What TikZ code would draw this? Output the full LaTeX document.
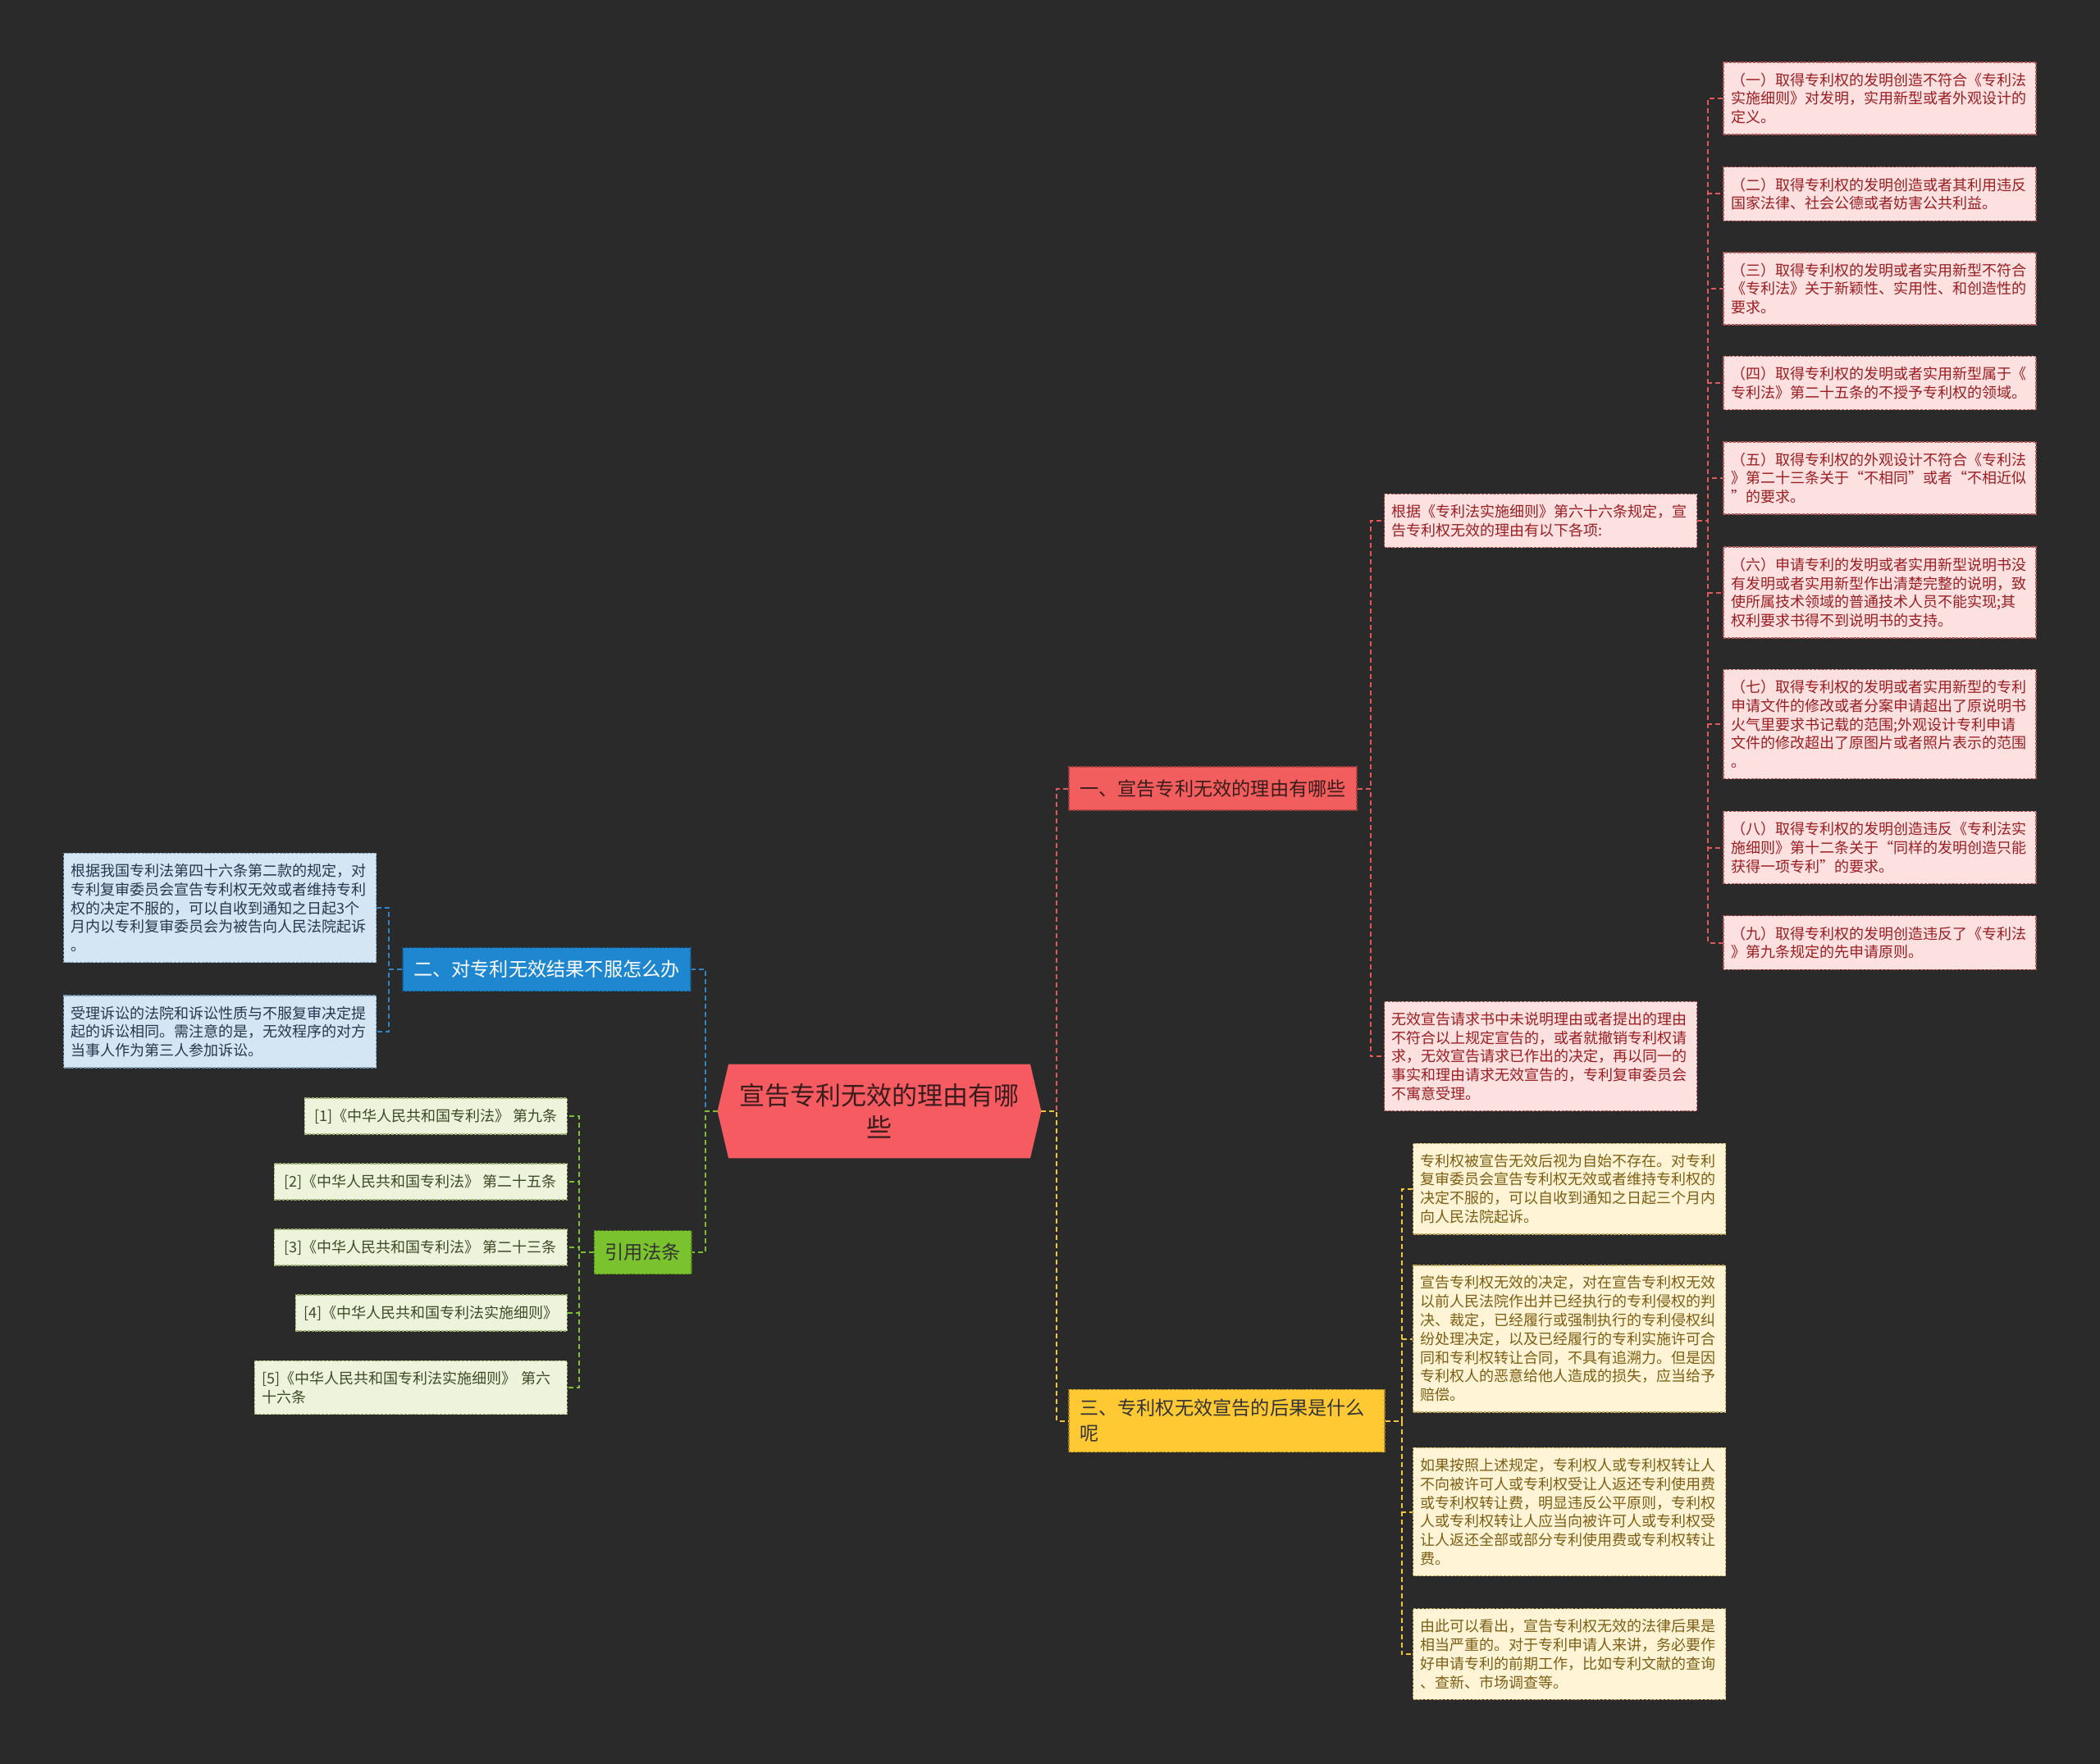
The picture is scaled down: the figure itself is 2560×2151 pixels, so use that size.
\documentclass[tikz,border=0pt]{standalone}
\usepackage{fontspec}
\setmainfont{Noto Sans CJK SC}
\usepackage{tikz}
\usetikzlibrary{backgrounds}

\definecolor{canvas}{HTML}{2A2A2A}
\definecolor{hubred}{HTML}{F55B61}
\definecolor{hubtext}{HTML}{3A1C1C}
\definecolor{topicred}{HTML}{F25E5E}
\definecolor{topicblue}{HTML}{1F87CF}
\definecolor{topicgreen}{HTML}{7AC22E}
\definecolor{topicyellow}{HTML}{FFC933}
\definecolor{pinkfill}{HTML}{FDE1E1}
\definecolor{pinkedge}{HTML}{B4585A}
\definecolor{pinktext}{HTML}{9A1E22}
\definecolor{skyfill}{HTML}{D4E6F4}
\definecolor{skyedge}{HTML}{7A9CBB}
\definecolor{skytext}{HTML}{24394F}
\definecolor{limefill}{HTML}{EEF4DB}
\definecolor{limeedge}{HTML}{9BB071}
\definecolor{limetext}{HTML}{3D4A26}
\definecolor{creamfill}{HTML}{FFF5D6}
\definecolor{creamedge}{HTML}{C2A65C}
\definecolor{creamtext}{HTML}{7D5E14}
\definecolor{linkred}{HTML}{E0585C}
\definecolor{linkblue}{HTML}{2E86C8}
\definecolor{linkgreen}{HTML}{7CC030}
\definecolor{linkyellow}{HTML}{F2C43A}

\begin{document}
\begin{tikzpicture}[
    x=0.5pt, y=-0.5pt,
    hub/.style={rectangle, inner sep=0pt, align=center, text=hubtext,
                minimum width=197pt, minimum height=57pt,
                font=\fontsize{15.5}{19.5}\selectfont},
    topic/.style={rectangle, fill=#1, draw=#1!65!black, line width=0.6pt,
                  dash pattern=on 1.6pt off 0.8pt, inner xsep=6.5pt, inner ysep=6pt,
                  minimum height=26.5pt, font=\fontsize{11.6}{15.5}\selectfont},
    leaf/.style={rectangle, align=left, text width=181.5pt, line width=0.6pt,
                 dash pattern=on 1.6pt off 0.8pt, inner xsep=4.5pt, inner ysep=6.4pt,
                 font=\fontsize{9}{11.4}\selectfont},
    redleaf/.style={leaf, fill=pinkfill, draw=pinkedge, text=pinktext},
    blueleaf/.style={leaf, fill=skyfill, draw=skyedge, text=skytext},
    greenleaf/.style={leaf, fill=limefill, draw=limeedge, text=limetext},
    yellowleaf/.style={leaf, fill=creamfill, draw=creamedge, text=creamtext},
    law/.style={greenleaf, anchor=east, text width=, align=center, minimum width=#1},
    link/.style={draw=#1, line width=1pt, dash pattern=on 3pt off 2pt}
]
\node[hub] (hub) at (1072,1355) {宣告专利无效的理由有哪\\些};

\node[topic=topicred, text=hubtext, minimum width=175.5pt]
    (why) at (1478.5,961.5) {一、宣告专利无效的理由有哪些};
\node[topic=topicyellow, text=black!80, align=left, text width=179.5pt]
    (effect) at (1495.5,1732.5) {三、专利权无效宣告的后果是什么\\呢};
\node[topic=topicblue, text=white, minimum width=175.5pt]
    (appeal) at (666.5,1182) {二、对专利无效结果不服怎么办};
\node[topic=topicgreen, text=black!80, minimum width=58.5pt]
    (laws) at (783.5,1527) {引用法条};

\node[redleaf] (whyRule) at (1878,635)
    {根据《专利法实施细则》第六十六条规定，宣\\告专利权无效的理由有以下各项:};
\node[redleaf] (whyReject) at (1878,1288)
    {无效宣告请求书中未说明理由或者提出的理由\\不符合以上规定宣告的，或者就撤销专利权请\\求，无效宣告请求已作出的决定，再以同一的\\事实和理由请求无效宣告的，专利复审委员会\\不寓意受理。};

\node[redleaf] (ground1) at (2291.5,120)
    {（一）取得专利权的发明创造不符合《专利法\\实施细则》对发明，实用新型或者外观设计的\\定义。};
\node[redleaf] (ground2) at (2291.5,236.5)
    {（二）取得专利权的发明创造或者其利用违反\\国家法律、社会公德或者妨害公共利益。};
\node[redleaf] (ground3) at (2291.5,352)
    {（三）取得专利权的发明或者实用新型不符合\\《专利法》关于新颖性、实用性、和创造性的\\要求。};
\node[redleaf] (ground4) at (2291.5,467)
    {（四）取得专利权的发明或者实用新型属于《\\专利法》第二十五条的不授予专利权的领域。};
\node[redleaf] (ground5) at (2291.5,583)
    {（五）取得专利权的外观设计不符合《专利法\\》第二十三条关于“不相同”或者“不相近似\\”的要求。};
\node[redleaf] (ground6) at (2291.5,722.5)
    {（六）申请专利的发明或者实用新型说明书没\\有发明或者实用新型作出清楚完整的说明，致\\使所属技术领域的普通技术人员不能实现;其\\权利要求书得不到说明书的支持。};
\node[redleaf] (ground7) at (2291.5,883)
    {（七）取得专利权的发明或者实用新型的专利\\申请文件的修改或者分案申请超出了原说明书\\火气里要求书记载的范围;外观设计专利申请\\文件的修改超出了原图片或者照片表示的范围\\。};
\node[redleaf] (ground8) at (2291.5,1033.5)
    {（八）取得专利权的发明创造违反《专利法实\\施细则》第十二条关于“同样的发明创造只能\\获得一项专利”的要求。};
\node[redleaf] (ground9) at (2291.5,1149.5)
    {（九）取得专利权的发明创造违反了《专利法\\》第九条规定的先申请原则。};

\node[yellowleaf] (effectA) at (1913,1449.5)
    {专利权被宣告无效后视为自始不存在。对专利\\复审委员会宣告专利权无效或者维持专利权的\\决定不服的，可以自收到通知之日起三个月内\\向人民法院起诉。};
\node[yellowleaf] (effectB) at (1913,1632.5)
    {宣告专利权无效的决定，对在宣告专利权无效\\以前人民法院作出并已经执行的专利侵权的判\\决、裁定，已经履行或强制执行的专利侵权纠\\纷处理决定，以及已经履行的专利实施许可合\\同和专利权转让合同，不具有追溯力。但是因\\专利权人的恶意给他人造成的损失，应当给予\\赔偿。};
\node[yellowleaf] (effectC) at (1913,1843.5)
    {如果按照上述规定，专利权人或专利权转让人\\不向被许可人或专利权受让人返还专利使用费\\或专利权转让费，明显违反公平原则，专利权\\人或专利权转让人应当向被许可人或专利权受\\让人返还全部或部分专利使用费或专利权转让\\费。};
\node[yellowleaf] (effectD) at (1913,2017)
    {由此可以看出，宣告专利权无效的法律后果是\\相当严重的。对于专利申请人来讲，务必要作\\好申请专利的前期工作，比如专利文献的查询\\、查新、市场调查等。};

\node[blueleaf] (appealA) at (268,1107)
    {根据我国专利法第四十六条第二款的规定，对\\专利复审委员会宣告专利权无效或者维持专利\\权的决定不服的，可以自收到通知之日起3个\\月内以专利复审委员会为被告向人民法院起诉\\。};
\node[blueleaf] (appealB) at (268,1258)
    {受理诉讼的法院和诉讼性质与不服复审决定提\\起的诉讼相同。需注意的是，无效程序的对方\\当事人作为第三人参加诉讼。};

\node[law=160pt] (law1) at (692,1361) {[1]《中华人民共和国专利法》 第九条};
\node[law=178.5pt] (law2) at (692,1441) {[2]《中华人民共和国专利法》 第二十五条};
\node[law=178.5pt] (law3) at (692,1521) {[3]《中华人民共和国专利法》 第二十三条};
\node[law=165.5pt] (law4) at (692,1601) {[4]《中华人民共和国专利法实施细则》};
\node[greenleaf, anchor=east] (law5) at (692,1692)
    {[5]《中华人民共和国专利法实施细则》 第六\\十六条};

\begin{scope}[on background layer]
\fill[canvas] (0,0) rectangle (2560,2151);
\fill[hubred] ([xshift=6.75pt]hub.north west) -- ([xshift=-6.75pt]hub.north east)
    -- (hub.east) -- ([xshift=-6.75pt]hub.south east)
    -- ([xshift=6.75pt]hub.south west) -- (hub.west) -- cycle;
\end{scope}

\draw[link=linkred] (hub.east) -- ++(19,0) |- (why.west);
\draw[link=linkyellow] (hub.east) -- ++(19,0) |- (effect.west);
\draw[link=linkblue] (hub.west) -- ++(-15,0) |- (appeal.east);
\draw[link=linkgreen] (hub.west) -- ++(-15,0) |- (laws.east);

\draw[link=linkred] (why.east) -- ++(16,0) |- (whyRule.west);
\draw[link=linkred] (why.east) -- ++(16,0) |- (whyReject.west);
\draw[link=linkred] (whyRule.east) -- ++(13,0) |- (ground1.west);
\draw[link=linkred] (whyRule.east) -- ++(13,0) |- (ground2.west);
\draw[link=linkred] (whyRule.east) -- ++(13,0) |- (ground3.west);
\draw[link=linkred] (whyRule.east) -- ++(13,0) |- (ground4.west);
\draw[link=linkred] (whyRule.east) -- ++(13,0) |- (ground5.west);
\draw[link=linkred] (whyRule.east) -- ++(13,0) |- (ground6.west);
\draw[link=linkred] (whyRule.east) -- ++(13,0) |- (ground7.west);
\draw[link=linkred] (whyRule.east) -- ++(13,0) |- (ground8.west);
\draw[link=linkred] (whyRule.east) -- ++(13,0) |- (ground9.west);

\draw[link=linkyellow] (effect.east) -- ++(20,0) |- (effectA.west);
\draw[link=linkyellow] (effect.east) -- ++(20,0) |- (effectB.west);
\draw[link=linkyellow] (effect.east) -- ++(20,0) |- (effectC.west);
\draw[link=linkyellow] (effect.east) -- ++(20,0) |- (effectD.west);

\draw[link=linkblue] (appeal.west) -- ++(-16,0) |- (appealA.east);
\draw[link=linkblue] (appeal.west) -- ++(-16,0) |- (appealB.east);

\draw[link=linkgreen] (laws.west) -- ++(-18,0) |- (law1.east);
\draw[link=linkgreen] (laws.west) -- ++(-18,0) |- (law2.east);
\draw[link=linkgreen] (laws.west) -- ++(-18,0) |- (law3.east);
\draw[link=linkgreen] (laws.west) -- ++(-18,0) |- (law4.east);
\draw[link=linkgreen] (laws.west) -- ++(-18,0) |- (law5.east);
\end{tikzpicture}
\end{document}
